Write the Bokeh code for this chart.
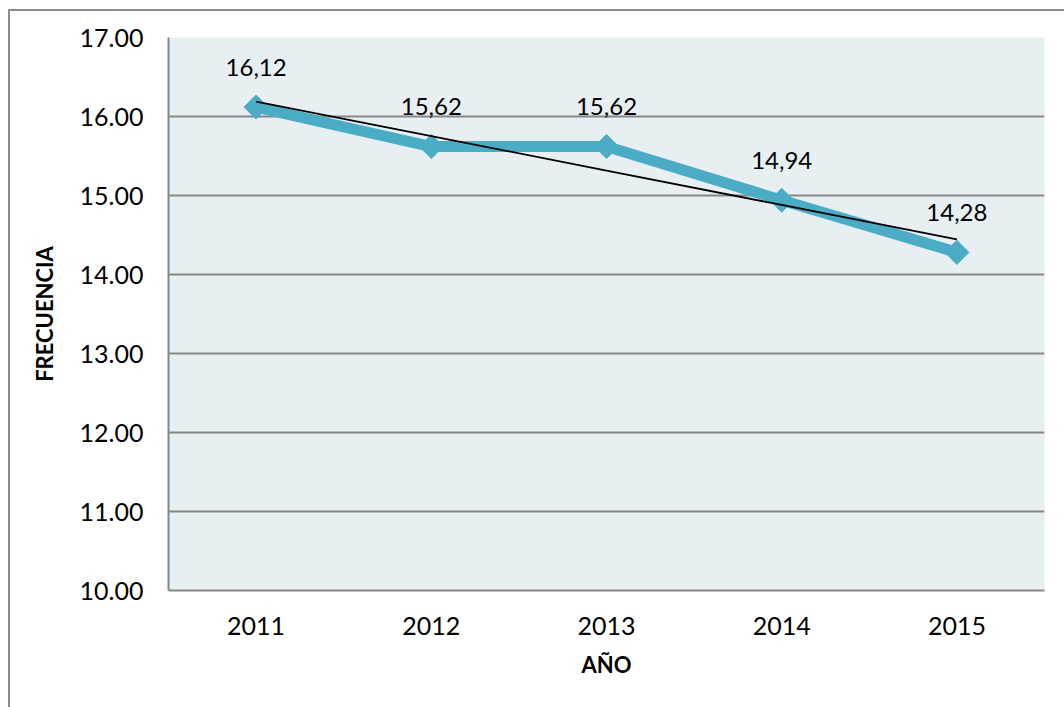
import numpy as np
from bokeh.plotting import figure
from bokeh.models import (ColumnDataSource, FactorRange, Range1d, FixedTicker,
                          CustomJSTickFormatter)
from bokeh.core.properties import value
from bokeh.embed import file_html
from bokeh.resources import INLINE

# Frequency per year
years = ["2011", "2012", "2013", "2014", "2015"]
frecuencia = [16.12, 15.62, 15.62, 14.94, 14.28]
labels = ["16,12", "15,62", "15,62", "14,94", "14,28"]
y_ticks = [10, 11, 12, 13, 14, 15, 16, 17]

# Linear trend fitted over the series
idx = np.arange(len(frecuencia))
slope, intercept = np.polyfit(idx, frecuencia, 1)
trend = list(intercept + slope * idx)

FONT = "Lato"
GRAY = "#878787"
TEAL = "#4bacc6"

src = ColumnDataSource(dict(year=years, f=frecuencia, label=labels, trend=trend))

p = figure(
    width=1056, height=698,
    x_range=FactorRange(*years, range_padding=0),
    y_range=Range1d(10, 17),
    output_backend="svg", toolbar_location=None,
    min_border_left=158, min_border_right=22,
    min_border_top=26, min_border_bottom=119,
)
# Chart frame border (left/top edges visible in the window)
p.margin = (9, 0, 0, 8)
p.styles = {"border-left": "2px solid #8c8c8c", "border-top": "2px solid #8c8c8c"}

p.background_fill_color = "#e8eff3"
p.border_fill_color = "white"
p.outline_line_color = None

# Series line with diamond markers
p.line("year", "f", source=src, line_color=TEAL, line_width=11, line_join="round")
p.scatter("year", "f", source=src, marker="square", angle=np.pi / 4, size=17,
          fill_color=TEAL, line_color=TEAL)

# Trend line
p.line("year", "trend", source=src, line_color="black", line_width=1.8)

# Value labels
p.text("year", "f", text="label", source=src, text_font=value(FONT),
       text_font_size="24px", text_color="black", text_align="center",
       text_baseline="middle", y_offset=-40)

# Axes
p.yaxis.ticker = FixedTicker(ticks=y_ticks)
p.yaxis.formatter = CustomJSTickFormatter(code="return tick.toFixed(2);")

for ax in (p.xaxis[0], p.yaxis[0]):
    ax.axis_line_color = GRAY
    ax.axis_line_width = 2
    ax.major_tick_line_color = None
    ax.minor_tick_line_color = None
    ax.major_label_text_font = FONT
    ax.major_label_text_font_size = "25px"
    ax.major_label_text_color = "black"
    ax.axis_label_text_font = FONT
    ax.axis_label_text_font_size = "22px"
    ax.axis_label_text_font_style = "bold"
    ax.axis_label_text_color = "black"

p.xaxis.axis_label = "AÑO"
p.yaxis.axis_label = "FRECUENCIA"
p.xaxis.major_label_standoff = 20
p.yaxis.major_label_standoff = 19
p.xaxis.axis_label_standoff = 13
p.yaxis.axis_label_standoff = 19

p.xgrid.grid_line_color = None
p.ygrid.grid_line_color = GRAY
p.ygrid.grid_line_width = 2

open("out.html", "w").write(file_html(p, INLINE))
